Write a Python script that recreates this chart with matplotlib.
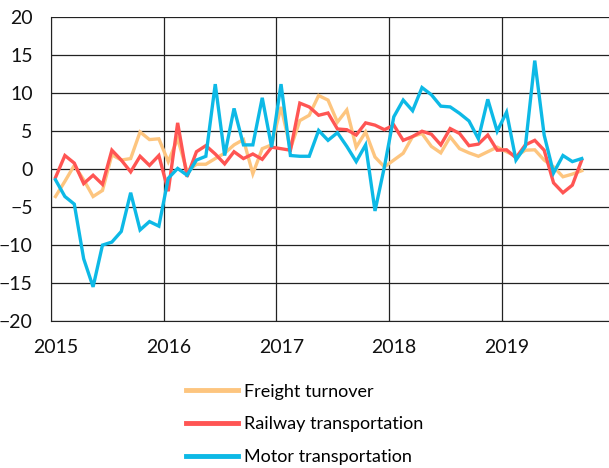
import numpy as np
import matplotlib
matplotlib.use("Agg")
import matplotlib.pyplot as plt
import matplotlib.transforms as mtransforms

# monthly growth, Jan 2015 - Sep 2019 (% y/y)
freight = [-3.6, -1.6, 0.5, -1.4, -3.6, -2.8, 1.9, 1.2, 1.4, 4.9, 3.9, 4.0,
           1.0, 4.0, -0.3, 0.65, 0.65, 1.4, 2.1, 3.2, 3.9, -0.6, 2.7, 3.2,
           8.2, 2.7, 6.4, 7.1, 9.7, 9.1, 6.2, 7.8, 2.9, 4.9, 1.6, 0.3,
           1.2, 2.1, 4.3, 4.7, 3.0, 2.15, 4.25, 2.7, 2.15, 1.7, 2.3, 2.9,
           2.3, 1.7, 2.5, 2.55, 1.2, 0.3, -1.0, -0.65, -0.2]
railway = [-1.1, 1.8, 0.8, -1.9, -0.8, -2.0, 2.5, 1.2, -0.35, 1.7, 0.5, 1.8,
           -2.9, 6.1, -1.0, 2.3, 3.1, 2.0, 0.7, 2.3, 1.4, 2.0, 1.3, 2.9,
           2.7, 2.5, 8.7, 8.2, 7.1, 7.4, 5.3, 5.2, 4.5, 6.1, 5.8, 5.2,
           5.8, 3.8, 4.3, 5.0, 4.6, 3.2, 5.35, 4.7, 3.1, 3.3, 4.5, 2.5,
           2.55, 1.5, 3.2, 3.8, 2.5, -1.8, -3.1, -2.1, 1.2]
motor = [-1.4, -3.6, -4.6, -11.8, -15.5, -10.0, -9.6, -8.2, -3.1, -8.0, -6.9, -7.5,
         -1.2, 0.1, -0.8, 1.2, 1.7, 11.2, 1.8, 8.0, 3.2, 3.2, 9.4, 2.9,
         11.2, 1.8, 1.7, 1.7, 5.1, 3.8, 4.8, 3.0, 1.0, 3.2, -5.5, 0.3,
         6.9, 9.1, 7.7, 10.75, 9.8, 8.3, 8.2, 7.35, 6.35, 4.0, 9.2, 5.0,
         7.5, 1.2, 3.0, 14.3, 4.5, -0.5, 1.8, 1.0, 1.4]
labels = ["Freight turnover", "Railway transportation", "Motor transportation"]
colors = ["#FDC57F", "#FF5553", "#0DB9E6"]
years = [2015, 2016, 2017, 2018, 2019]

x = 2015 + (np.arange(len(freight)) + 0.5) / 12

plt.rcParams['font.family'] = ['Lato', 'DejaVu Sans']

fig = plt.figure(figsize=(6.09, 4.68), dpi=100)
ax = fig.add_axes([0.0834, 0.314, 0.9166, 0.649])

for series, lab, col in zip([freight, railway, motor], labels, colors):
    ax.plot(x, series, color=col, lw=2.4, label=lab, solid_joinstyle='miter')

ax.set_xlim(2015, 2019.95)
ax.set_ylim(-20, 20)
ax.set_yticks(range(-20, 21, 5))
ax.set_xticks(years)
ax.grid(True, color='#222222', lw=0.9)
ax.set_axisbelow(True)
for s in ['top', 'right']:
    ax.spines[s].set_visible(False)
ax.spines['left'].set_color('#222222')
ax.spines['bottom'].set_color('#222222')
ax.tick_params(length=0, labelsize=14, colors='#111111')
ax.tick_params(axis='y', pad=13)
ax.tick_params(axis='x', pad=13)

# year labels sit a little right of the gridlines in the original
shift = mtransforms.ScaledTranslation(5 / 100, 0, fig.dpi_scale_trans)
for lbl in ax.get_xticklabels():
    lbl.set_transform(lbl.get_transform() + shift)

fig.legend(loc='upper center', bbox_to_anchor=(0.5, 0.215), frameon=False,
           fontsize=13, handlelength=2.9, handletextpad=0.3, labelspacing=0.93)
for line in fig.legends[0].get_lines():
    line.set_linewidth(3.5)

fig.savefig("out.png", dpi=100)
